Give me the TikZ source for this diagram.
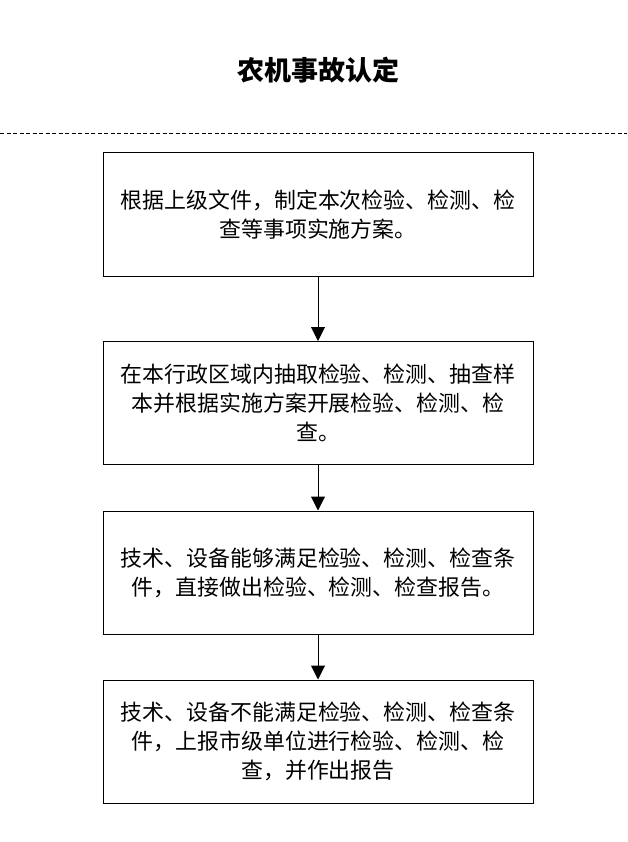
\documentclass[tikz,border=0pt]{standalone}
\usepackage{fontspec}
\setmainfont{Noto Sans CJK SC}
\usetikzlibrary{arrows.meta}
\tikzset{
  stepbox/.style={draw=black, line width=1pt, minimum width=430pt, minimum height=123pt, align=center, inner sep=0pt,
    font=\fontsize{21.9pt}{29pt}\selectfont},
  flow/.style={draw=black, line width=1pt, -{Triangle[width=14pt,length=14pt]}},
}
\begin{document}
\begin{tikzpicture}[x=1pt,y=-1pt]
\useasboundingbox (0,0) rectangle (627,842);
\node[font=\fontsize{27pt}{30pt}\selectfont\bfseries] (title) at (318,70) {农机事故认定};
\coordinate (dl) at (0,134);
\coordinate (dr) at (627,134);
\draw[line width=1pt, dash pattern=on 4pt off 2.5pt] (dl) -- (dr);
\node[stepbox] (b1) at (318,214.5) {根据上级文件，制定本次检验、检测、检\\查等事项实施方案。};
\node[stepbox] (b2) at (318,403) {在本行政区域内抽取检验、检测、抽查样\\本并根据实施方案开展检验、检测、检\\查。};
\node[stepbox] (b3) at (318,572.5) {技术、设备能够满足检验、检测、检查条\\件，直接做出检验、检测、检查报告。};
\node[stepbox] (b4) at (318,741.5) {技术、设备不能满足检验、检测、检查条\\件，上报市级单位进行检验、检测、检\\查，并作出报告};
\draw[flow] (b1) -- (b2);
\draw[flow] (b2) -- (b3);
\draw[flow] (b3) -- (b4);
\end{tikzpicture}
\end{document}
